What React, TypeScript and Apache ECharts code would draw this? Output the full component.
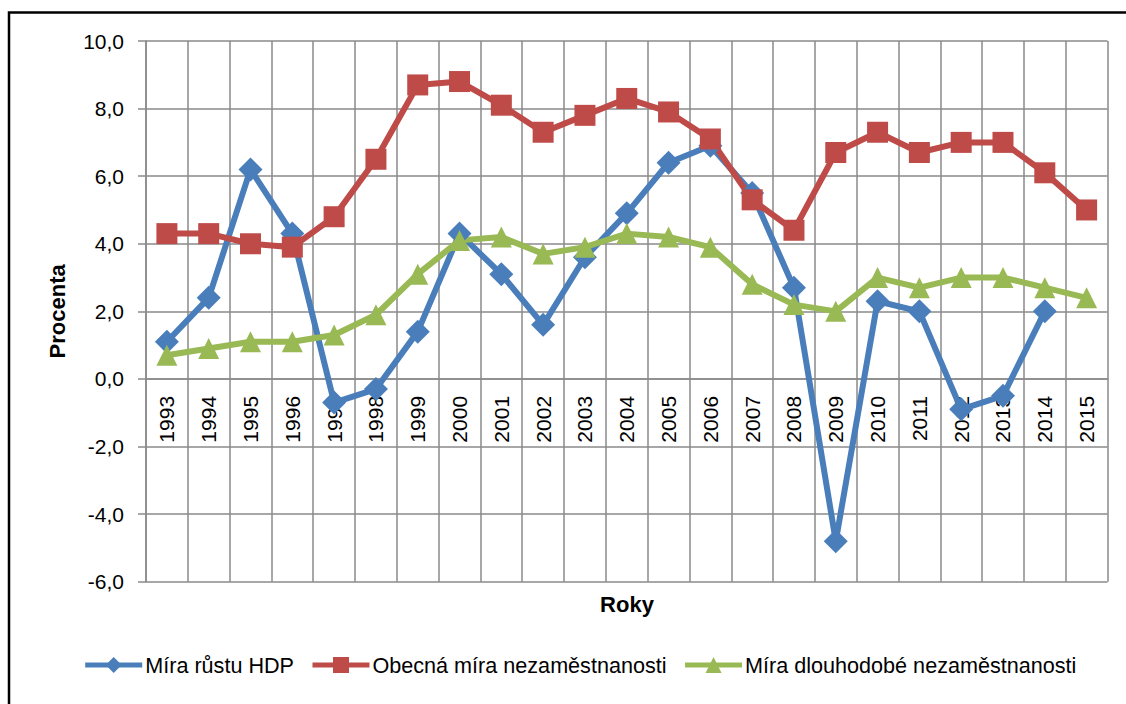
import React, { useEffect, useRef } from "react";
import * as echarts from "echarts";

const years = ["1993","1994","1995","1996","1997","1998","1999","2000","2001","2002","2003","2004","2005","2006","2007","2008","2009","2010","2011","2012","2013","2014","2015"];
const gdpGrowth = [1.1, 2.4, 6.2, 4.3, -0.7, -0.3, 1.4, 4.3, 3.1, 1.6, 3.6, 4.9, 6.4, 6.9, 5.5, 2.7, -4.8, 2.3, 2.0, -0.9, -0.5, 2.0, null];
const unemployment = [4.3, 4.3, 4.0, 3.9, 4.8, 6.5, 8.7, 8.8, 8.1, 7.3, 7.8, 8.3, 7.9, 7.1, 5.3, 4.4, 6.7, 7.3, 6.7, 7.0, 7.0, 6.1, 5.0];
const longTermUnemployment = [0.7, 0.9, 1.1, 1.1, 1.3, 1.9, 3.1, 4.1, 4.2, 3.7, 3.9, 4.3, 4.2, 3.9, 2.8, 2.2, 2.0, 3.0, 2.7, 3.0, 3.0, 2.7, 2.4];
const seriesNames = ["Míra růstu HDP", "Obecná míra nezaměstnanosti", "Míra dlouhodobé nezaměstnanosti"];
const yMin = -6;
const yMax = 10;

const FONT = "'Liberation Sans', Arial, sans-serif";
const GRID = "#8a8a8a";
const GRID_TOP = 41;
const GRID_BOTTOM_Y = 581.7;

export default function App() {
  const ref = useRef<HTMLDivElement>(null);
  useEffect(() => {
    document.body.style.margin = "0";
    const chart = echarts.init(ref.current!, null, { renderer: "svg" });
    const zeroOffset = ((GRID_BOTTOM_Y - GRID_TOP) * (0 - yMin)) / (yMax - yMin);
    const mk = (name: string, data: any[], color: string, symbol: string, size: number) => ({
      name,
      type: "line",
      data,
      symbol,
      symbolSize: size,
      showSymbol: true,
      connectNulls: false,
      lineStyle: { color, width: 6 },
      itemStyle: { color },
    });
    chart.setOption({
      animation: false,
      textStyle: { fontFamily: FONT },
      grid: { left: 146, top: GRID_TOP, right: 18.5, bottom: 704 - GRID_BOTTOM_Y, containLabel: false },
      xAxis: [
        {
          type: "category",
          data: years,
          boundaryGap: true,
          offset: -zeroOffset,
          axisLine: { show: true, onZero: false, lineStyle: { color: GRID, width: 1.5 } },
          axisTick: { show: false },
          axisLabel: { interval: 0, rotate: 90, margin: 17, fontSize: 21, color: "#000", fontFamily: FONT },
          splitLine: { show: true, interval: 0, lineStyle: { color: GRID, width: 1.5 } },
        },
      ],
      yAxis: {
        type: "value",
        min: yMin,
        max: yMax,
        interval: 2,
        name: "Procenta",
        nameLocation: "middle",
        nameGap: 78,
        nameRotate: 90,
        nameTextStyle: { fontSize: 22, fontWeight: "bold", color: "#000", fontFamily: FONT },
        axisLine: { show: true, lineStyle: { color: GRID, width: 1.5 } },
        axisTick: { show: true, length: 8, lineStyle: { color: GRID, width: 1.5 } },
        axisLabel: {
          fontSize: 21, color: "#000", margin: 22, fontFamily: FONT,
          formatter: (v: number) => v.toFixed(1).replace(".", ","),
        },
        splitLine: { show: true, lineStyle: { color: GRID, width: 1.5 } },
      },
      legend: {
        left: 77.7,
        top: 649,
        itemWidth: 57,
        itemHeight: 20,
        itemGap: 16,
        lineStyle: { width: 5 },
        textStyle: { fontSize: 21.6, color: "#000", fontFamily: FONT, padding: [0, 0, 0, -2] },
        data: seriesNames,
      },
      graphic: [
        {
          type: "rect",
          shape: { x: 9, y: 12.5, width: 1300, height: 900 },
          style: { fill: "none", stroke: "#000", lineWidth: 2.5 },
          silent: true,
        },
        {
          type: "text",
          x: 627,
          y: 604,
          style: { text: "Roky", fontSize: 22, fontWeight: "bold", fill: "#000", fontFamily: FONT, align: "center", verticalAlign: "middle" },
        },
      ],
      series: [
        mk(seriesNames[0], gdpGrowth, "#4A7EBB", "diamond", 24),
        mk(seriesNames[1], unemployment, "#BE4B48", "rect", 21),
        mk(seriesNames[2], longTermUnemployment, "#98B954", "triangle", 21),
      ],
    });
    return () => chart.dispose();
  }, []);
  return <div ref={ref} style={{ width: 1126, height: 704 }} />;
}
